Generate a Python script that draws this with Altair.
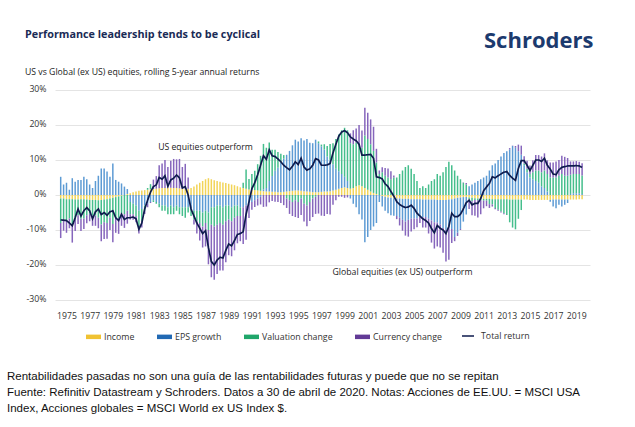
import altair as alt
import pandas as pd

# ---------------- data (quarterly, 1975 Q1 .. 2020 Q1), % p.a. ----------------
QUARTERS = [1975 + k / 4 for k in range(181)]

TOTAL = [
    -7.1, -7.2, -7.3, -8.0, -8.8, -6.5, -4.0, -6.0, -4.5, -3.6, -4.5, -6.8,
    -4.8, -4.0, -5.6, -5.0, -5.8, -4.8, -4.5, -6.5, -7.3, -5.5, -7.0, -6.5,
    -6.5, -6.3, -6.8, -9.8, -8.0, -4.0, -1.5, 0.8,
    2.4, 2.9, 5.0, 4.5, 5.5, 2.5, 4.3, 4.8, 5.7, 4.9, 2.0, 2.4,
    0.0, -4.0, -6.0, -8.0, -9.5, -11.0, -10.2, -15.0,
    -19.0, -20.0, -18.6, -17.8, -18.0, -15.8, -14.0, -14.5, -13.0, -11.3, -11.0, -10.5,
    -5.5, -2.0, 1.8, 3.5, 5.8, 8.5, 11.2, 10.2,
    12.9, 11.2, 11.0, 10.3, 9.5, 8.5, 7.8, 7.2, 8.2, 9.5, 8.7, 10.5,
    8.0, 7.1, 7.5, 8.5, 10.4, 10.0, 8.5, 8.5, 8.6, 9.0, 12.0, 14.5,
    16.8, 18.0, 18.4, 17.8, 16.6, 16.0, 15.5, 14.5, 11.4, 11.4, 11.5, 11.6,
    10.5, 5.2, 5.0, 4.6,
    3.2, 2.4, 1.0, -0.3,
    -1.9, -2.7, -3.2, -3.6, -3.4, -2.9, -3.8, -5.2, -6.0, -6.8, -7.3, -8.0,
    -9.6, -10.8, -8.7, -9.5, -10.0, -11.0, -9.0, -5.2,
    -6.2, -6.2, -5.5, -4.0, -2.2, -1.5, -2.8, -2.4,
    -2.4, -1.0, 1.2, 2.3, 3.3, 5.2, 4.9, 5.5, 6.0, 6.5, 6.7, 5.6,
    4.8, 4.2, 7.6, 9.8, 9.8, 8.5, 7.0, 8.5, 10.0, 10.0, 9.6, 10.5,
    8.5, 7.4, 6.0, 5.8, 7.2, 7.9, 8.1, 8.3, 8.3, 8.3, 8.4, 8.3, 7.9,
]

INCOME = [
    -1.0, -1.0, -1.2, -1.2, -1.2, -1.3, -1.3, -1.2, -1.2, -1.3, -1.4, -1.4,
    -1.4, -1.5, -1.4, -1.3, -1.2, -1.0, -0.8, -0.6, -0.4, -0.2, 0.0, 0.3,
    0.5, 0.8, 1.0, 1.2, 1.3, 1.4, 1.5, 1.6,
    1.7, 1.8, 1.9, 2.0, 2.0, 2.1, 2.1, 2.0, 2.0, 1.9, 1.8, 1.7,
    1.8, 2.0, 2.4, 3.0, 3.5, 4.0, 4.5, 4.8,
    4.5, 4.2, 4.0, 3.8, 3.6, 3.4, 3.2, 3.0, 2.8, 2.5, 2.2, 2.0,
    1.8, 1.6, 1.5, 1.4, 1.3, 1.2, 1.1, 1.0,
    1.0, 0.9, 0.9, 0.8, 0.8, 0.9, 1.0, 1.1, 1.2, 1.3, 1.3, 1.2,
    1.1, 1.0, 0.9, 0.8, 0.8, 0.8, 0.9, 1.0, 1.0, 1.1, 1.3, 1.5,
    1.8, 2.0, 2.2, 2.0, 1.8, 2.0, 2.5, 2.8, 2.5, 2.0, 1.5, 1.0,
    0.6, 0.3, 0.0, -0.3,
    -0.5, -0.7, -0.8, -0.9,
    -1.0, -1.0, -1.1, -1.1, -1.1, -1.2, -1.2, -1.2, -1.2, -1.3, -1.3, -1.3,
    -1.3, -1.3, -1.4, -1.4, -1.4, -1.4, -1.3, -1.2,
    -1.0, -0.8, -0.7, -0.6, -0.6, -0.7, -0.8, -0.9,
    -1.0, -1.0, -1.1, -1.1, -1.1, -1.2, -1.2, -1.2, -1.2, -1.2, -1.2, -1.3,
    -1.3, -1.3, -1.3, -1.3, -1.3, -1.3, -1.4, -1.4, -1.4, -1.4, -1.4, -1.4,
    -1.4, -1.4, -1.3, -1.3, -1.3, -1.3, -1.3, -1.3, -1.3, -1.3, -1.3, -1.2, -1.2,
]

EPS = [
    5.2, 3.0, 3.5, 1.5, 4.8, 3.8, 4.3, 4.3, 5.2, 4.5, 3.0, 2.0,
    4.0, 5.5, 7.6, 7.6, 6.7, 5.2, 9.0, 4.3, 3.8, 3.3, 2.4, 1.4,
    -2.0, -2.5, -3.0, -4.5, -4.0, -3.0, -2.5, -2.0,
    -1.5, -2.0, -2.5, -3.0, -3.0, -3.5, -3.0, -3.5, -3.0, -3.5, -3.5, -3.5,
    -3.5, -4.0, -4.5, -4.5, -4.5, -5.0, -4.5, -5.0,
    -3.5, -3.5, -3.0, -3.0, -3.5, -3.0, -3.0, -3.5, -3.0, -3.0, -3.5, -3.5,
    -3.0, -2.5, -2.0, -1.5, -1.0, -0.5, 0.5, 1.0,
    3.0, 4.5, 6.0, 7.0, 8.5, 9.5, 10.5, 11.5, 13.0, 14.5, 14.0, 15.0,
    14.5, 15.0, 14.0, 14.0, 15.0, 14.0, 13.0, 12.0, 10.0, 9.0, 7.5, 6.0,
    5.0, 4.0, 3.0, 2.0, -1.0, -2.5, -3.5, -5.5, -7.0, -13.5, -12.0, -10.0,
    -9.0, -8.0, -2.0, -3.0,
    -4.0, -4.5, -5.0, -5.0,
    -5.0, -5.5, -6.0, -6.5, -6.0, -5.5, -5.5, -5.5, -5.0, -5.0, -5.0, -5.5,
    -6.0, -6.5, -6.5, -7.0, -8.0, -8.5, -8.0, -8.5,
    -11.0, -10.0, -9.0, -7.0, -5.0, 2.5, 3.0, 3.5,
    4.0, 4.5, 5.0, 5.5, 7.0, 8.5, 9.0, 10.0, 11.0, 12.0, 12.5, 13.0,
    14.0, 13.5, 12.5, 11.5, 8.5, 6.5, 5.0, 4.5, 4.0, 3.5, 2.5, 2.0,
    1.0, -0.5, -2.0, -2.5, -1.5, -2.0, -1.5, -1.0, 0.3, 0.5, 0.5, 0.5, 0.3,
]

VALUATION = [
    -7.0, -6.0, -6.2, -5.5, -7.5, -5.5, -4.5, -5.6, -5.5, -4.5, -4.0, -4.5,
    -4.5, -5.0, -7.0, -6.5, -6.8, -5.5, -7.5, -5.8, -6.2, -5.0, -5.5, -4.5,
    -3.5, -3.0, -3.0, -4.5, -3.5, -1.5, 0.5, 1.5,
    -0.5, -0.5, -1.0, -1.5, -1.5, -2.0, -2.5, -2.0, -1.5, -2.0, -2.5, -3.0,
    -1.5, -2.0, -2.5, -3.0, -3.5, -4.0, -3.5, -5.0,
    -5.0, -5.5, -5.5, -5.0, -5.0, -4.5, -4.0, -4.0, -3.5, -3.0, -2.5, 1.5,
    5.5, 3.0, 4.5, 5.5, 7.5, 10.0, 13.0, 11.5,
    11.0, 7.5, 6.0, 4.5, 2.5, 1.0, -1.0, -1.5, -2.0, -1.5, -2.0, -1.0,
    -2.5, -3.0, -2.0, -1.0, -0.5, 0.5, 0.5, 1.5, 3.0, 4.5, 6.0, 8.5,
    10.5, 12.5, 14.0, 14.5, 13.0, 12.5, 12.5, 12.0, 11.0, 15.0, 14.5, 13.5,
    12.0, 9.0, 6.0, 6.5,
    5.5, 5.0, 4.5, 5.0,
    5.0, 6.0, 7.0, 8.0, 8.5, 7.5, 6.0, 4.0, 2.0, 2.5, 2.0, 3.0,
    4.0, 4.5, 6.0, 5.5, 6.5, 8.0, 9.5, 8.5,
    7.0, 5.5, 4.5, 3.5, 3.0, -0.5, -1.0, -0.5,
    -0.5, -0.5, -0.5, -0.5, -1.5, -1.5, -2.5, -3.0, -3.5, -4.0, -4.5, -6.5,
    -8.0, -8.5, -5.5, -3.0, 0.5, 1.0, 1.0, 2.0, 3.0, 3.5, 4.0, 5.0,
    5.0, 5.0, 5.0, 5.0, 5.5, 6.0, 5.5, 5.5, 5.5, 5.5, 5.5, 5.5, 5.3,
]

CURRENCY = [
    -4.3, -3.2, -3.4, -2.8, -4.9, -3.5, -2.5, -3.5, -3.0, -2.3, -2.1, -2.9,
    -2.9, -3.0, -4.8, -4.8, -4.5, -3.5, -5.2, -4.4, -4.5, -3.6, -3.9, -3.7,
    -1.5, -1.6, -1.8, -2.0, -1.8, -0.9, -1.0, -0.3,
    2.7, 3.6, 6.6, 7.0, 8.0, 5.9, 7.7, 8.3, 8.2, 8.4, 6.2, 7.2,
    3.2, 0.0, -1.4, -3.5, -5.0, -6.0, -6.7, -9.8,
    -15.0, -15.2, -14.1, -13.6, -13.1, -11.7, -10.2, -10.0, -9.3, -7.8, -7.2, -10.5,
    -9.8, -4.1, -2.2, -1.9, -2.0, -2.2, -3.4, -3.3,
    -2.1, -1.7, -1.9, -2.0, -2.3, -2.9, -2.7, -3.9, -4.0, -4.8, -4.6, -4.7,
    -5.1, -5.9, -5.4, -5.3, -4.9, -5.3, -5.9, -6.0, -5.4, -5.6, -2.8, -1.5,
    -0.5, -0.5, -0.8, -0.7, 2.8, 4.0, 4.0, 5.2, 4.9, 7.9, 7.5, 7.1,
    6.9, 3.9, 1.0, 1.4,
    2.2, 2.6, 2.3, 0.6,
    -0.9, -2.2, -3.1, -4.0, -4.8, -3.7, -3.1, -2.5, -1.8, -3.0, -3.0, -4.2,
    -6.3, -7.5, -6.8, -6.6, -7.1, -9.1, -9.2, -4.0,
    -1.2, -0.9, -0.3, 0.1, 0.4, -2.8, -4.0, -4.5,
    -4.9, -4.0, -2.2, -1.6, -1.1, -0.6, -0.4, -0.3, -0.3, -0.3, 0.0, 0.4,
    0.1, 0.5, 1.9, 2.6, 2.1, 2.3, 2.4, 3.4, 4.4, 4.4, 4.5, 4.9,
    3.9, 4.3, 4.3, 4.6, 4.5, 5.2, 5.4, 5.1, 3.8, 3.6, 3.7, 3.5, 3.5,
]

COMPONENTS = ["Income", "EPS growth", "Valuation change", "Currency change"]
LEGEND_COLORS = ["#F0C232", "#2169B3", "#1FA66A", "#623A96"]   # swatches
BAR_COLORS = ["#F2D458", "#5D9BD4", "#45BE8C", "#8666BC"]      # thin bars (lighter tint)
LINE_NAME = "Total return"
LINE_COLOR = "#0E1B4D"
YEAR_TICKS = [1975.5 + 2 * k for k in range(23)]
Y_TICKS = [-30, -20, -10, 0, 10, 20, 30]

NOTES = ["US equities outperform", "Global equities (ex US) outperform"]
NOTE_T = [1987.5, 2004.5]
NOTE_Y = [13.8, -22.0]

FOOT = [
    "Rentabilidades pasadas no son una guía de las rentabilidades futuras y puede que no se repitan",
    "Fuente: Refinitiv Datastream y Schroders. Datos a 30 de abril de 2020.  Notas: Acciones de EE.UU. = MSCI USA",
    "Index, Acciones globales = MSCI World ex US Index $.",
]

# ---------------- tables ----------------
rows = []
for order, (name, arr) in enumerate(zip(COMPONENTS, [INCOME, EPS, VALUATION, CURRENCY])):
    for t, v in zip(QUARTERS, arr):
        rows.append({"t": t, "series": name, "value": v, "ord": order})
bars_df = pd.DataFrame(rows)
line_df = pd.DataFrame({"t": QUARTERS, "line": LINE_NAME, "value": TOTAL})
notes_df = pd.DataFrame({"t": NOTE_T, "value": NOTE_Y, "label": NOTES})
key_df = pd.DataFrame({"t": [QUARTERS[0]] * 4, "series": COMPONENTS, "value": [0.0] * 4})
one = pd.DataFrame({"a": [0]})

FONT = "Open Sans"
xs = alt.Scale(domain=[1974.94, 2020.25], nice=False, zero=False)
ys = alt.Scale(domain=[-30, 30], nice=False)

x_axis = alt.Axis(values=YEAR_TICKS, labelExpr="floor(datum.value)", grid=False, domain=False,
                  ticks=False, labelPadding=11, labelFontSize=8.7, labelColor="#333333",
                  labelFont=FONT, title=None, labelFlush=False, labelOverlap=False)
y_axis = alt.Axis(values=Y_TICKS, labelExpr="datum.value + '%'", grid=True, gridColor="#E4E4E4",
                  domain=False, ticks=False, labelPadding=9, labelFontSize=8.7,
                  labelColor="#333333", labelFont=FONT, title=None, labelOffset=-2,
                  labelOverlap=False, labelFlush=False)

X = alt.X("t:Q", scale=xs, axis=x_axis)

bar_legend = alt.Legend(orient="none", legendX=31, legendY=239, direction="horizontal", title=None,
                        symbolType="M-1,-0.3H1V0.3H-1Z", symbolSize=225, symbolStrokeWidth=0,
                        labelFontSize=8.8, labelFont=FONT, labelColor="#333333", labelOffset=3,
                        columnPadding=22)
line_legend = alt.Legend(orient="none", legendX=406, legendY=239, direction="horizontal", title=None,
                         symbolType="stroke", symbolSize=144, symbolStrokeWidth=1.6,
                         symbolStrokeColor=LINE_COLOR, labelFontSize=8.8, labelFont=FONT,
                         labelColor="#333333", labelOffset=6)

bars = alt.Chart(bars_df).mark_bar(size=1.5).encode(
    x=X,
    y=alt.Y("value:Q", scale=ys, axis=y_axis, stack="zero"),
    color=alt.Color("series:N", scale=alt.Scale(domain=COMPONENTS, range=BAR_COLORS), legend=None),
    order=alt.Order("ord:Q"),
)

# zero-height marks that only carry the colour key
key = alt.Chart(key_df).mark_bar(size=0.01).encode(
    x=X,
    y=alt.Y("value:Q", scale=ys, axis=y_axis, stack=None),
    fill=alt.Fill("series:N", scale=alt.Scale(domain=COMPONENTS, range=LEGEND_COLORS),
                  legend=bar_legend),
)

line = alt.Chart(line_df).mark_line(strokeWidth=1.7, color=LINE_COLOR).encode(
    x=X,
    y=alt.Y("value:Q", scale=ys, axis=y_axis),
    strokeDash=alt.StrokeDash("line:N", scale=alt.Scale(domain=[LINE_NAME], range=[[1, 0]]),
                              legend=line_legend),
)

notes = alt.Chart(notes_df).mark_text(font=FONT, fontSize=8.7, color="#222222", align="center",
                                      baseline="middle").encode(
    x=X, y=alt.Y("value:Q", scale=ys, axis=y_axis), text="label:N")


def label(text, x, y, **kw):
    return alt.Chart(one).mark_text(align="left", baseline="middle", **kw).encode(
        x=alt.value(x), y=alt.value(y), text=alt.value(text))


title = label("Performance leadership tends to be cyclical", -30, -55, font=FONT, fontSize=10.8,
              fontWeight="bold", color="#1A2B56")
subtitle = label("US vs Global (ex US) equities, rolling 5-year annual returns", -30, -18,
                 font=FONT, fontSize=8.7, color="#222222")
logo = label("Schroders", 429, -49, font=FONT, fontSize=22, fontWeight="bold", color="#1C3A6E")
foot = [label(s, -48, 287 + 16 * k, font="Liberation Sans", fontSize=11.5, color="#111111")
        for k, s in enumerate(FOOT)]

chart = alt.layer(bars, key, line, notes, title, subtitle, logo, *foot).resolve_scale(
    color="independent", fill="independent", strokeDash="independent"
).properties(
    width=535, height=210,
    autosize=alt.AutoSizeParams(type="none"),
    padding={"left": 55, "top": 90, "right": 45, "bottom": 127},
    background="white",
).configure_view(stroke=None)

chart.save("out.html", embed_options={"renderer": "svg", "actions": False})
